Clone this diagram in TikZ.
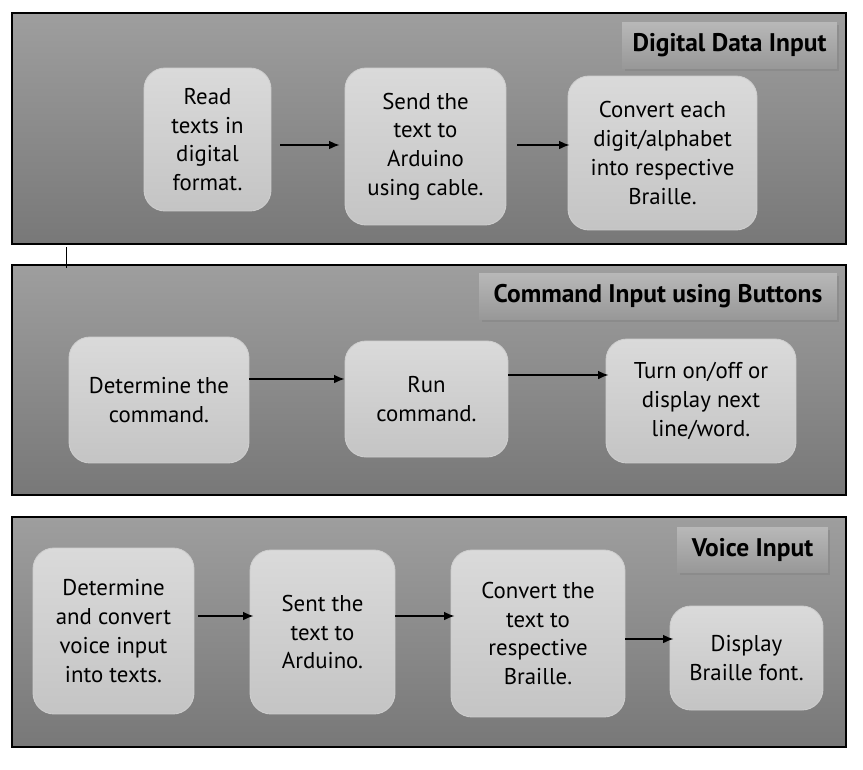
\documentclass[tikz,border=0pt]{standalone}
\usepackage{fontspec}
\setmainfont{PT Sans}
\usepackage{tikz}
\usetikzlibrary{arrows.meta,shadows}

\definecolor{paneltop}{RGB}{158,158,158}
\definecolor{panelbot}{RGB}{120,120,120}
\definecolor{boxtop}{RGB}{218,218,218}
\definecolor{boxbot}{RGB}{196,196,196}
\definecolor{boxline}{RGB}{206,206,206}
\definecolor{titletop}{RGB}{184,184,184}
\definecolor{titlebot}{RGB}{152,152,152}

\tikzset{
    panel/.style={rectangle, draw=black, line width=0.7pt, top color=paneltop, bottom color=panelbot, inner sep=0pt},
    stage/.style={rectangle, rounded corners=0.42cm, draw=boxline, line width=0.5pt, top color=boxtop, bottom color=boxbot,
        align=center, inner sep=2pt, font=\fontsize{13}{16.4}\selectfont},
    heading/.style={rectangle, draw=none, top color=titletop, bottom color=titlebot, inner sep=0pt,
        font=\fontsize{14.5}{16}\selectfont\bfseries,
        drop shadow={opacity=0.45, shadow xshift=0.05cm, shadow yshift=-0.06cm}},
    arr/.style={-{Latex[length=6pt,width=5pt]}, line width=0.9pt}
}

\begin{document}
\begin{tikzpicture}[x=0.02cm, y=-0.02cm]
        \useasboundingbox[fill=white] (0,0) rectangle (863,769);

        % panels
        \node[panel, minimum width=16.68cm, minimum height=4.62cm] (digital) at (429,128.5) {};
        \node[panel, minimum width=16.68cm, minimum height=4.60cm] (command) at (429,380) {};
        \node[panel, minimum width=16.68cm, minimum height=4.60cm] (voice) at (429,632) {};

        % headings
        \node[heading, minimum width=4.30cm, minimum height=0.92cm] (digitalhead) at (729.5,45) {Digital Data Input};
        \node[heading, minimum width=7.16cm, minimum height=0.92cm] (commandhead) at (658,296) {Command Input using Buttons};
        \node[heading, minimum width=3.02cm, minimum height=0.90cm] (voicehead) at (752.5,549.5) {Voice Input};

        % digital data input
        \node[stage, minimum width=2.54cm, minimum height=2.86cm] (read) at (207.5,139.5) {Read\\texts in\\digital\\format.};
        \node[stage, minimum width=3.22cm, minimum height=3.14cm] (send) at (425.5,146.5) {Send the\\text to\\Arduino\\using cable.};
        \node[stage, minimum width=3.78cm, minimum height=3.08cm] (convert) at (662.5,153) {Convert each\\digit/alphabet\\into respective\\Braille.};
        \draw[arr] ([xshift=0.18cm,yshift=-0.11cm]read.east) -- ([xshift=-0.10cm,yshift=-0.11cm]read.east -| send.west);
        \draw[arr] ([xshift=0.22cm,yshift=0.03cm]send.east) -- ([xshift=0.04cm,yshift=0.03cm]send.east -| convert.west);

        % command input
        \node[stage, minimum width=3.60cm, minimum height=2.52cm] (determine) at (159,400) {Determine the\\command.};
        \node[stage, minimum width=3.26cm, minimum height=2.32cm] (run) at (426.5,399) {Run\\command.};
        \node[stage, minimum width=3.80cm, minimum height=2.48cm] (turn) at (701,401) {Turn on/off or\\display next\\line/word.};
        \draw[arr] ([yshift=0.42cm]determine.east) -- ([yshift=0.42cm]determine.east -| run.west);
        \draw[arr] ([yshift=0.48cm]run.east) -- ([xshift=0.06cm,yshift=0.48cm]run.east -| turn.west);

        % voice input
        \node[stage, minimum width=3.22cm, minimum height=3.32cm] (listen) at (113.5,631) {Determine\\and convert\\voice input\\into texts.};
        \node[stage, minimum width=2.90cm, minimum height=3.28cm] (sent) at (322.5,632) {Sent the\\text to\\Arduino.};
        \node[stage, minimum width=3.48cm, minimum height=3.34cm] (braille) at (538,633.5) {Convert the\\text to\\respective\\Braille.};
        \node[stage, minimum width=3.06cm, minimum height=2.08cm] (display) at (746.5,658) {Display\\Braille font.};
        \draw[arr] ([xshift=0.08cm,yshift=0.30cm]listen.east) -- ([xshift=0.08cm,yshift=0.30cm]listen.east -| sent.west);
        \draw[arr] ([yshift=0.32cm]sent.east) -- ([xshift=0.08cm,yshift=0.32cm]sent.east -| braille.west);
        \draw[arr] ([yshift=-0.11cm]braille.east) -- ([xshift=0.08cm,yshift=-0.11cm]braille.east -| display.west);

        % stray mark
        \coordinate (markA) at (66,247);
        \coordinate (markB) at (66,268);
        \draw[line width=0.5pt] (markA) -- (markB);
    \end{tikzpicture}
\end{document}
